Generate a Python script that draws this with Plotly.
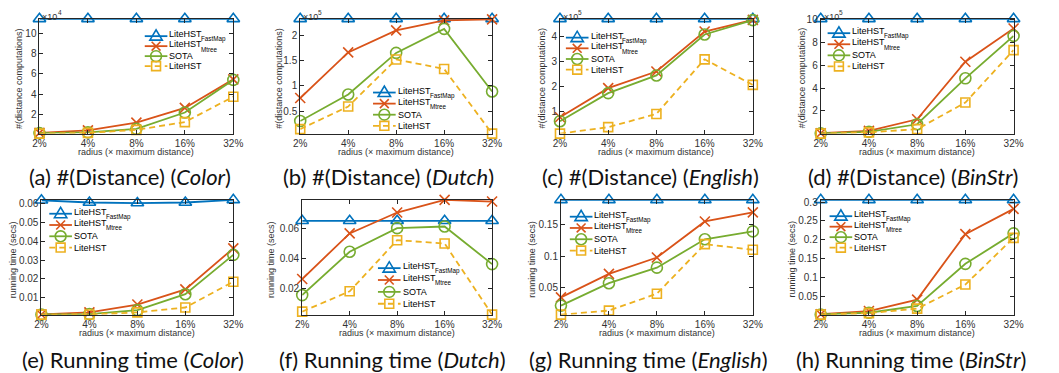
import plotly.graph_objects as go

W, H = 1059, 373

# ---------------- data ----------------
radius = ["2%", "4%", "8%", "16%", "32%"]
method_main = ["LiteHST", "LiteHST", "SOTA", "LiteHST"]
method_sub = ["FastMap", "Mtree", "", ""]

# (a) #(Distance) Color  (x 10^4)
color_dist_fastmap = [11.39, 11.39, 11.39, 11.39, 11.39]
color_dist_mtree = [0.20, 0.45, 1.20, 2.65, 5.45]
color_dist_sota = [0.18, 0.25, 0.60, 2.20, 5.40]
color_dist_lite = [0.13, 0.20, 0.50, 1.26, 3.75]

# (b) #(Distance) Dutch  (x 10^5)
dutch_dist_fastmap = [2.34, 2.34, 2.34, 2.34, 2.34]
dutch_dist_mtree = [0.76, 1.67, 2.11, 2.31, 2.33]
dutch_dist_sota = [0.30, 0.83, 1.66, 2.14, 0.89]
dutch_dist_lite = [0.14, 0.59, 1.53, 1.34, 0.05]

# (c) #(Distance) English  (x 10^5)
english_dist_fastmap = [4.73, 4.73, 4.73, 4.73, 4.73]
english_dist_mtree = [0.77, 1.94, 2.61, 4.22, 4.69]
english_dist_sota = [0.61, 1.74, 2.45, 4.10, 4.68]
english_dist_lite = [0.11, 0.37, 0.90, 3.10, 2.07]

# (d) #(Distance) BinStr  (x 10^5)
binstr_dist_fastmap = [10.1, 10.1, 10.1, 10.1, 10.1]
binstr_dist_mtree = [0.04, 0.25, 1.27, 6.33, 9.25]
binstr_dist_sota = [0.03, 0.16, 0.83, 4.87, 8.60]
binstr_dist_lite = [0.01, 0.12, 0.40, 2.74, 7.35]

# (e) Running time Color (secs)
color_time_fastmap = [0.0620, 0.0608, 0.0605, 0.0608, 0.0622]
color_time_mtree = [0.0010, 0.0021, 0.0063, 0.0144, 0.0363]
color_time_sota = [0.0010, 0.0012, 0.0033, 0.0118, 0.0328]
color_time_lite = [0.0009, 0.0010, 0.0021, 0.0047, 0.0185]

# (f) Running time Dutch (secs)
dutch_time_fastmap = [0.0649, 0.0649, 0.0649, 0.0649, 0.0649]
dutch_time_mtree = [0.0262, 0.0565, 0.0704, 0.0788, 0.0777]
dutch_time_sota = [0.0155, 0.0443, 0.0600, 0.0611, 0.0361]
dutch_time_lite = [0.0045, 0.0180, 0.0520, 0.0498, 0.0025]

# (g) Running time English (secs)
english_time_fastmap = [0.190, 0.190, 0.190, 0.190, 0.190]
english_time_mtree = [0.0336, 0.0713, 0.0976, 0.1554, 0.1700]
english_time_sota = [0.0205, 0.0564, 0.0813, 0.1268, 0.1395]
english_time_lite = [0.0060, 0.0125, 0.0395, 0.1190, 0.1100]

# (h) Running time BinStr (secs)
binstr_time_fastmap = [0.306, 0.306, 0.306, 0.306, 0.306]
binstr_time_mtree = [0.0020, 0.0105, 0.0410, 0.2150, 0.2820]
binstr_time_sota = [0.0015, 0.0060, 0.0240, 0.1360, 0.2170]
binstr_time_lite = [0.0010, 0.0050, 0.0170, 0.0810, 0.2050]

# y tick values per panel
ticks_a = [2, 4, 6, 8, 10]
ticks_b = [0.5, 1, 1.5, 2]
ticks_c = [1, 2, 3, 4]
ticks_d = [2, 4, 6, 8, 10]
ticks_e = [0.01, 0.02, 0.03, 0.04, 0.05, 0.06]
ticks_f = [0.02, 0.04, 0.06]
ticks_g = [0.05, 0.1, 0.15]
ticks_h = [0.05, 0.1, 0.15, 0.2, 0.25, 0.3]

captions = [
    "(a) #(Distance) (<i>Color</i>)", "(b) #(Distance) (<i>Dutch</i>)",
    "(c) #(Distance) (<i>English</i>)", "(d) #(Distance) (<i>BinStr</i>)",
    "(e) Running time (<i>Color</i>)", "(f) Running time (<i>Dutch</i>)",
    "(g) Running time (<i>English</i>)", "(h) Running time (<i>BinStr</i>)",
]
x_title = "radius (× maximum distance)"
y_titles = ["#(distance computations)"] * 4 + ["running time (secs)"] * 4
exponent_powers = ["4", "5", "5", "5", None, None, None, None]

series_sets = [
    [color_dist_fastmap, color_dist_mtree, color_dist_sota, color_dist_lite],
    [dutch_dist_fastmap, dutch_dist_mtree, dutch_dist_sota, dutch_dist_lite],
    [english_dist_fastmap, english_dist_mtree, english_dist_sota, english_dist_lite],
    [binstr_dist_fastmap, binstr_dist_mtree, binstr_dist_sota, binstr_dist_lite],
    [color_time_fastmap, color_time_mtree, color_time_sota, color_time_lite],
    [dutch_time_fastmap, dutch_time_mtree, dutch_time_sota, dutch_time_lite],
    [english_time_fastmap, english_time_mtree, english_time_sota, english_time_lite],
    [binstr_time_fastmap, binstr_time_mtree, binstr_time_sota, binstr_time_lite],
]
tick_sets = [ticks_a, ticks_b, ticks_c, ticks_d, ticks_e, ticks_f, ticks_g, ticks_h]

# ---------------- styles / layout geometry (pixels) ----------------
colors = ["#0072BD", "#D95319", "#77AC30", "#EDB120"]
symbols = ["triangle-up-open", "x-thin-open", "circle-open", "square-open"]
msizes = [11, 10, 11, 9]
dashes = ["solid", "solid", "solid", "6px,4px"]
LW = 1.8
AX = "#333333"
TXT_FONT = "Liberation Sans, Arial"

# plot boxes: (left, right, top, bottom)
boxes = [
    (33, 230, 15, 131), (298, 493, 15, 131), (562, 758, 15, 131), (827, 1023, 15, 131),
    (35, 230, 198, 314), (300, 493, 198, 314), (563, 758, 198, 314), (827, 1023, 198, 314),
]
# legend: (line start x, first row y, row spacing)
legends = [
    (140, 32.5, 10.1), (372, 89.5, 11.2), (568, 34, 10.8), (834, 29.5, 11.2),
    (43, 212, 11.4), (377, 267, 12.0), (572, 215, 11.4), (836, 214.5, 10.6),
]
caption_x = [125, 388, 654, 921, 128, 392, 652, 919]
caption_y = [174, 174, 174, 174, 359, 359, 359, 359]
ytitle_x = [12, 277, 544, 808, 6, 269, 534, 798]
xtitle_y = [150, 150, 150, 150, 333, 333, 333, 333]

MAIN_W = 32.5   # rendered width of "LiteHST" at 9px Liberation Sans
EXP_W = 15.3    # rendered width of "×10" at 9px Liberation Sans


def fx(x):
    return x / W


def fy(y):
    return 1 - y / H


def label(x, y, text, size, color=AX, xanchor="left", angle=0, family=TXT_FONT):
    return dict(x=fx(x), y=fy(y), xref="paper", yref="paper", text=text, showarrow=False,
                xanchor=xanchor, yanchor="middle", textangle=angle,
                font=dict(family=family, size=size, color=color))


fig = go.Figure()
layout = {}
annotations = []
shapes = []
xpos = list(range(len(radius)))

for i, series in enumerate(series_sets):
    k = i + 1
    xa = "x" if k == 1 else f"x{k}"
    ya = "y" if k == 1 else f"y{k}"
    for s, vals in enumerate(series):
        fig.add_trace(go.Scatter(
            x=xpos, y=vals, xaxis=xa, yaxis=ya, mode="lines+markers",
            name=method_main[s] + method_sub[s], showlegend=False, cliponaxis=False,
            line=dict(color=colors[s], width=LW, dash=dashes[s]),
            marker=dict(symbol=symbols[s], size=msizes[s], color=colors[s],
                        line=dict(color=colors[s], width=1.6)),
        ))
    allv = [v for ser in series for v in ser]
    lo, hi = min(allv), max(allv)
    L, R, T, B = boxes[i]
    common = dict(showline=True, linecolor="#262626", linewidth=1, mirror="ticks",
                  ticks="inside", ticklen=4, tickcolor="#262626", tickwidth=1,
                  showgrid=False, zeroline=False,
                  tickfont=dict(family=TXT_FONT, size=10, color=AX))
    layout[f"xaxis{k}"] = dict(common, domain=[fx(L), fx(R)], anchor=ya,
                               range=[xpos[0], xpos[-1]], tickmode="array",
                               tickvals=xpos, ticktext=radius)
    layout[f"yaxis{k}"] = dict(common, domain=[fy(B), fy(T)], anchor=xa, range=[lo, hi],
                               tickmode="array", tickvals=tick_sets[i])

    annotations.append(label(caption_x[i], caption_y[i], captions[i], 22, "#111", "center",
                             family="Lato"))
    annotations.append(label((L + R) / 2, xtitle_y[i], x_title, 9, AX, "center"))
    annotations.append(label(ytitle_x[i], (T + B) / 2 + 2, y_titles[i], 9, AX, "center", angle=-90))
    if exponent_powers[i]:
        annotations.append(label(L + 1, T - 2, "×10", 9))
        annotations.append(label(L + 1 + EXP_W, T - 6, exponent_powers[i], 6.5))

    # legend (drawn manually to keep MATLAB-like compact rows)
    lx, ly, sp = legends[i]
    for s in range(4):
        cy = ly + s * sp
        cx = lx + 11.5
        c = colors[s]
        shapes.append(dict(type="line", xref="paper", yref="paper", x0=fx(lx), x1=fx(lx + 23),
                           y0=fy(cy), y1=fy(cy), line=dict(color=c, width=LW, dash=dashes[s])))
        if s == 0:
            path = (f"M{fx(cx - 6.3)},{fy(cy + 4)} L{fx(cx + 6.3)},{fy(cy + 4)} "
                    f"L{fx(cx)},{fy(cy - 6.5)} Z")
            shapes.append(dict(type="path", xref="paper", yref="paper", path=path,
                               line=dict(color=c, width=1.6)))
        elif s == 1:
            d = 4.5
            shapes.append(dict(type="line", xref="paper", yref="paper", x0=fx(cx - d), x1=fx(cx + d),
                               y0=fy(cy - d), y1=fy(cy + d), line=dict(color=c, width=1.6)))
            shapes.append(dict(type="line", xref="paper", yref="paper", x0=fx(cx - d), x1=fx(cx + d),
                               y0=fy(cy + d), y1=fy(cy - d), line=dict(color=c, width=1.6)))
        elif s == 2:
            r = 5.5
            shapes.append(dict(type="circle", xref="paper", yref="paper", x0=fx(cx - r), x1=fx(cx + r),
                               y0=fy(cy + r), y1=fy(cy - r), line=dict(color=c, width=1.6)))
        else:
            r = 4.5
            shapes.append(dict(type="rect", xref="paper", yref="paper", x0=fx(cx - r), x1=fx(cx + r),
                               y0=fy(cy + r), y1=fy(cy - r), line=dict(color=c, width=1.6)))
        if method_sub[s]:
            annotations.append(label(lx + 23, cy - 2, method_main[s], 9, "#000"))
            annotations.append(label(lx + 23 + MAIN_W, cy + 3, method_sub[s], 6.3, "#000"))
        else:
            annotations.append(label(lx + 23, cy, method_main[s], 9, "#000"))

fig.update_layout(
    width=W, height=H, margin=dict(l=0, r=0, t=0, b=0),
    paper_bgcolor="white", plot_bgcolor="white", showlegend=False,
    annotations=annotations, shapes=shapes, **layout,
)

fig.write_html("out.html")
